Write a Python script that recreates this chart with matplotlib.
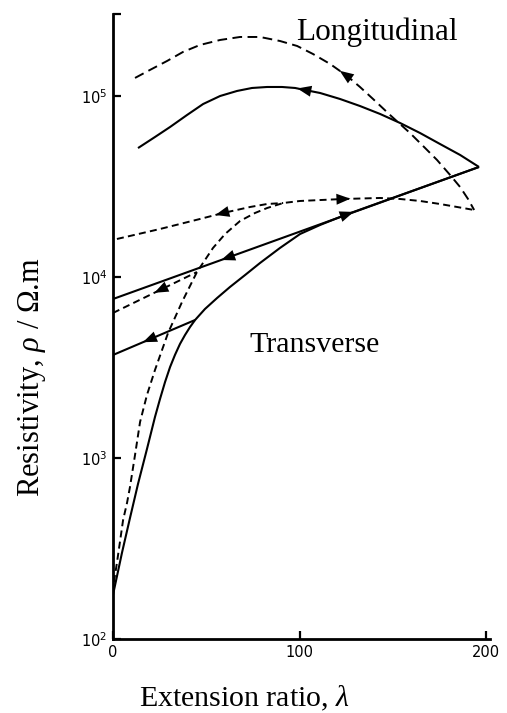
import matplotlib
matplotlib.use("Agg")
import matplotlib.pyplot as plt
import numpy as np
from matplotlib.patches import Polygon
from matplotlib.ticker import FixedLocator, NullLocator

plt.rcParams['mathtext.fontset'] = 'custom'
plt.rcParams['mathtext.rm'] = 'Liberation Serif'
plt.rcParams['mathtext.it'] = 'Liberation Serif:italic'
plt.rcParams['mathtext.sf'] = 'DejaVu Sans'

# longitudinal resistivity on retraction
long_dash_lam = [11.8, 19.8, 29.0, 37.5, 46.6, 57.4, 68.1, 78.8, 89.5, 98.7, 107.2, 116.4,
                 125.5, 132.4, 139.4, 148.5, 159.2, 167.3, 173.7, 180.7, 186.1, 190.3, 193.6]
long_dash_rho = [125300, 138700, 155500, 174300, 190500, 203000, 210900, 210900, 200400,
                 188100, 169900, 149600, 128400, 111700, 95900, 78270, 62230, 51440, 44180,
                 36510, 31300, 26920, 23400]
long_solid_lam = [13.4, 22.5, 30.6, 39.7, 48.3, 57.4, 66.5, 74.5, 82.6, 90.6, 97.6, 102.9,
                  111.0, 121.7, 132.4, 143.2, 153.9, 164.6, 175.3, 186.1, 196.2]
long_solid_rho = [51400, 59160, 67200, 78270, 89950, 99600, 106200, 110300, 111700, 111700,
                  110300, 107500, 103500, 95900, 87700, 79260, 70680, 62230, 54120, 47070, 40420]

# transverse resistivity on extension
trans_solid_lam = [0, 4.8, 9.1, 13.4, 18.2, 22.5, 25.2, 27.9, 30.6, 33.2, 35.9, 38.6, 41.3,
                   44.0, 49.3, 55.8, 62.7, 70.8, 78.8, 89.5, 100.3, 111.0, 124.4, 196.2]
trans_solid_rho = [176, 300, 467, 720, 1122, 1686, 2120, 2630, 3183, 3707, 4264, 4779, 5291,
                   5783, 6651, 7648, 8796, 10240, 11930, 14440, 17250, 19340, 21960, 40420]
trans_dash_lam = [0.5, 2.1, 3.8, 5.4, 7.5, 9.1, 11.8, 14.5, 18.2, 22.5, 29.5, 37.0, 45.0,
                  53.6, 60.1, 68.1, 76.1, 82.6, 91.2, 100.3, 123.3, 143.2, 153.9, 164.6,
                  175.3, 193.6]
trans_dash_rho = [207, 264, 349, 455, 565, 693, 1040, 1582, 2230, 3063, 4902, 7270, 10640,
                  14440, 17250, 20350, 22520, 23990, 25570, 26240, 26910, 27260, 26910,
                  26240, 25250, 23400]

# transverse resistivity on retraction
ret_solid_lam = [0, 196.2]
ret_solid_rho = [7550, 40420]
part_solid_lam = [0, 44.0]
part_solid_rho = [3707, 5783]
ret_dash_lam = [2.1, 25.2, 46.6, 59.0, 73.5, 82.6, 91.2]
ret_dash_rho = [16190, 18380, 20870, 22520, 24310, 25250, 25570]
part_dash_lam = [0, 45.0]
part_dash_rho = [6324, 10640]

fig = plt.figure(figsize=(5.07, 7.13), dpi=100)
ax = fig.add_axes([0.2229, 0.1034, 0.7436, 0.877])
ax.set_yscale('log')
ax.set_xlim(0, 202.1)
ax.set_ylim(100, 10 ** 5.451)

solid = dict(color='k', lw=1.5, solid_capstyle='butt', solid_joinstyle='round')
long_dash = dict(color='k', lw=1.4, linestyle=(0, (5.0, 2.8)))
short_dash = dict(color='k', lw=1.4, linestyle=(0, (3.6, 2.2)))

ax.plot(long_dash_lam, long_dash_rho, **long_dash)
ax.plot(long_solid_lam, long_solid_rho, **solid)
ax.plot(trans_solid_lam, trans_solid_rho, **solid)
ax.plot(ret_solid_lam, ret_solid_rho, **solid)
ax.plot(part_solid_lam, part_solid_rho, **solid)
ax.plot(trans_dash_lam, trans_dash_rho, **short_dash)
ax.plot(ret_dash_lam, ret_dash_rho, **short_dash)
ax.plot(part_dash_lam, part_dash_rho, **short_dash)


def arrow_on(lam, rho, lam0, sign):
    """filled triangle sitting on a curve, pointing along it"""
    ly = np.log10(rho)
    y0 = 10 ** np.interp(lam0, lam, ly)
    y1 = 10 ** np.interp(lam0 + sign * 0.5, lam, ly)
    p0 = ax.transData.transform((lam0, y0))
    p1 = ax.transData.transform((lam0 + sign * 0.5, y1))
    u = (p1 - p0) / np.hypot(*(p1 - p0))
    n = np.array([-u[1], u[0]])
    tip = p0 + u * 8
    base = p0 - u * 6
    verts = np.array([tip, base + n * 5.5, base - n * 5.5])
    verts = ax.transData.inverted().transform(verts)
    ax.add_patch(Polygon(verts, closed=True, color='k', lw=0, zorder=3))


arrow_on(long_solid_lam, long_solid_rho, 103, -1)
arrow_on(long_dash_lam, long_dash_rho, 125, -1)
arrow_on(ret_solid_lam, ret_solid_rho, 62, -1)
arrow_on(part_solid_lam, part_solid_rho, 20, -1)
arrow_on(trans_solid_lam, trans_solid_rho, 125, 1)
arrow_on(trans_dash_lam, trans_dash_rho, 123, 1)
arrow_on(ret_dash_lam, ret_dash_rho, 59, -1)
arrow_on(part_dash_lam, part_dash_rho, 26, -1)

for s in ['top', 'right']:
    ax.spines[s].set_visible(False)
for s in ['left', 'bottom']:
    ax.spines[s].set_linewidth(2.0)

ax.set_xticks([0, 100, 200])
ax.set_xticklabels(['0', '100', '200'])
ax.set_yticks([1e2, 1e3, 1e4, 1e5])
ax.set_yticklabels(['$\\mathsf{10^{%d}}$' % k for k in range(2, 6)])
ax.xaxis.set_minor_locator(NullLocator())
ax.yaxis.set_minor_locator(FixedLocator([10 ** 5.449]))
ax.tick_params(which='both', direction='in', length=6, width=1.6,
               labelsize=10.5, pad=4)

ax.text(98.4, 2.04e5, 'Longitudinal', fontsize=22.5, family='Liberation Serif',
        ha='left', va='baseline')
ax.text(73.3, 3855, 'Transverse', fontsize=21.5, family='Liberation Serif',
        ha='left', va='baseline')

fig.text(0.483, 0.009, 'Extension ratio, $\\lambda$', fontsize=21.5,
         family='Liberation Serif', ha='center', va='baseline')
fig.text(0.077, 0.4705, 'Resistivity, $\\rho$ / Ω.m', fontsize=22,
         family='Liberation Serif', ha='center', va='baseline', rotation=90,
         rotation_mode='anchor')

fig.savefig('out.png', dpi=100)
